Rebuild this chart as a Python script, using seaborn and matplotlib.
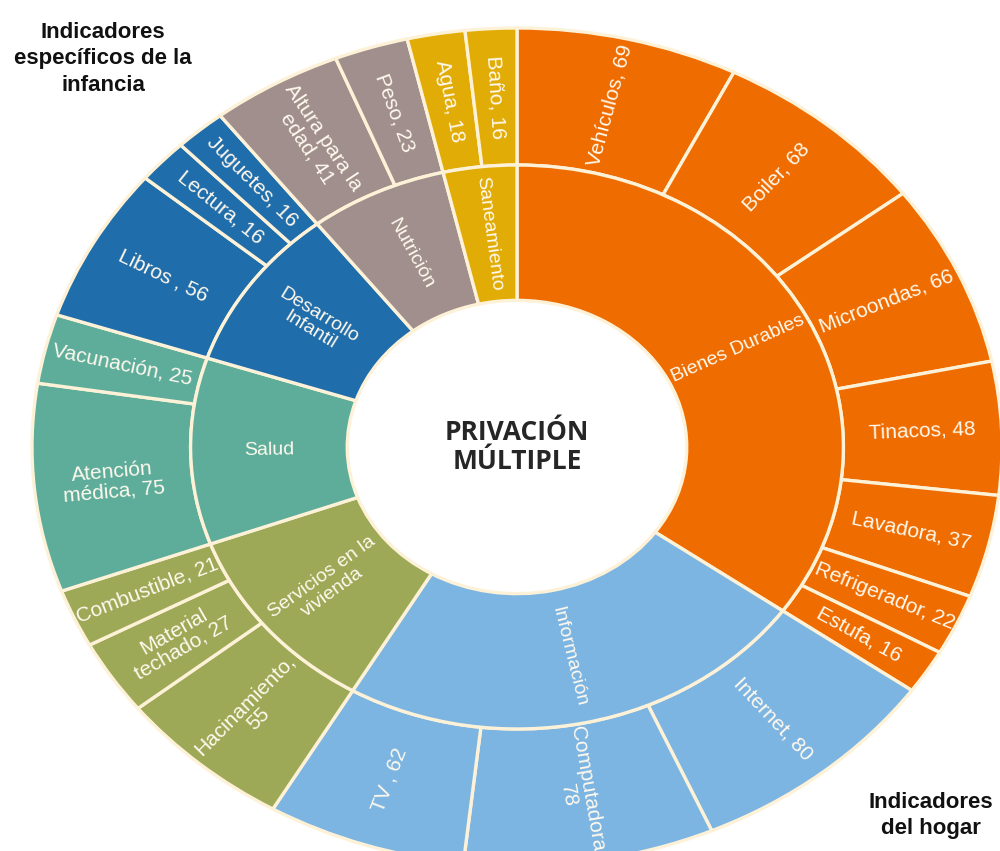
import matplotlib
matplotlib.use("Agg")
import matplotlib.pyplot as plt
import numpy as np
import seaborn as sns


# parent groups (inner ring), clockwise from 12 o'clock
groups = [
    "Bienes Durables",
    "Información",
    "Servicios en la\nvivienda",
    "Salud",
    "Desarrollo\nInfantil",
    "Nutrición",
    "Saneamiento",
]
group_colors = ["#EF6C00", "#7DB5E2", "#9DA956", "#5EAD9A", "#1F6DAA", "#A08F8C", "#E1AC05"]

# indicators (outer ring), same order
items = [
    ["Vehículos, 69", "Boiler, 68", "Microondas, 66", "Tinacos, 48",
     "Lavadora, 37", "Refrigerador, 22", "Estufa, 16"],
    ["Internet, 80", "Computadora,\n78", "TV , 62"],
    ["Hacinamiento,\n55", "Material\ntechado, 27", "Combustible, 21"],
    ["Atención\nmédica, 75", "Vacunación, 25"],
    ["Libros , 56", "Lectura, 16", "Juguetes, 16"],
    ["Altura para la\nedad, 41", "Peso, 23"],
    ["Agua, 18", "Baño, 16"],
]
item_values = [
    [69, 68, 66, 48, 37, 22, 16],
    [80, 78, 62],
    [55, 27, 21],
    [75, 25],
    [56, 16, 16],
    [41, 23],
    [18, 16],
]

EDGE = "#FDF2D8"
TXT = "#FFF9EE"
# the original picture is stretched sideways, keep the same look
SX, SY = 485.0, 419.0
CX, CY = 517.0, 447.0
R_OUT, R_MID, R_IN = 1.0, 0.673, 0.35


def radial_rotation(theta):
    t = np.deg2rad(theta)
    a = np.degrees(np.arctan2(SY * np.sin(t), SX * np.cos(t)))
    if a > 90:
        a -= 180
    if a < -90:
        a += 180
    return a


def mid_angles(values):
    values = np.asarray(values, dtype=float)
    span = values / values.sum() * 360
    ends = 90 - np.cumsum(span)
    return ends + span / 2


sns.set_theme(style="white")
plt.rcParams["font.family"] = ["Liberation Sans", "DejaVu Sans"]

palette = sns.color_palette(group_colors)
group_values = [sum(v) for v in item_values]
outer_values = [v for vals in item_values for v in vals]
outer_labels = [lab for labs in items for lab in labs]
outer_colors = [palette[i] for i, vals in enumerate(item_values) for _ in vals]

fig = plt.figure(figsize=(10, 8.51), dpi=100)
ax = fig.add_axes([0, 0, 1, 1])

wp = dict(edgecolor=EDGE, linewidth=2.4)
ax.pie(outer_values, radius=R_OUT, colors=outer_colors, startangle=90,
       counterclock=False, wedgeprops=dict(width=R_OUT - R_MID, **wp))
ax.pie(group_values, radius=R_MID, colors=palette, startangle=90,
       counterclock=False, wedgeprops=dict(width=R_MID - R_IN, **wp))

ax.set_aspect("auto")
ax.set_xlim(-CX / SX, (1000 - CX) / SX)
ax.set_ylim(-(851 - CY) / SY, CY / SY)
ax.axis("off")

r_lab = (R_OUT + R_MID) / 2
for lab, ang in zip(outer_labels, mid_angles(outer_values)):
    t = np.deg2rad(ang)
    ax.text(r_lab * np.cos(t), r_lab * np.sin(t), lab, rotation=radial_rotation(ang),
            rotation_mode="anchor", ha="center", va="center", color=TXT,
            fontsize=15, linespacing=1.05)

r_lab = (R_MID + R_IN) / 2
for lab, ang in zip(groups, mid_angles(group_values)):
    t = np.deg2rad(ang)
    ax.text(r_lab * np.cos(t), r_lab * np.sin(t), lab, rotation=radial_rotation(ang),
            rotation_mode="anchor", ha="center", va="center", color=TXT,
            fontsize=14, linespacing=1.05)

ax.text(0, 0, "PRIVACIÓN\nMÚLTIPLE", ha="center", va="center", fontsize=19,
        fontweight="bold", color="#262626", family=["Open Sans", "DejaVu Sans"],
        linespacing=1.1)

fig.text(0.103, 0.931, "Indicadores\nespecíficos de la\ninfancia", ha="center",
         va="center", fontsize=16, fontweight="bold", color="#111111", linespacing=1.35)
fig.text(0.931, 0.042, "Indicadores\ndel hogar", ha="center", va="center",
         fontsize=16, fontweight="bold", color="#111111", linespacing=1.3)

fig.savefig("out.png", dpi=100, facecolor="white")
